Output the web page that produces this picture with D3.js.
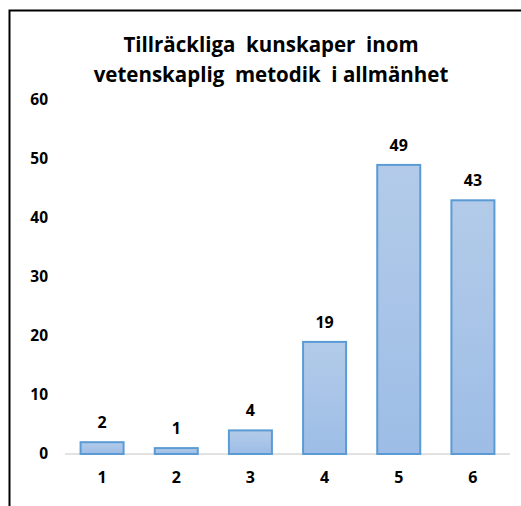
<!DOCTYPE html>
<html><head><meta charset="utf-8">
<script src="https://cdn.jsdelivr.net/npm/d3@7"></script>
<style>body{margin:0;background:#fff}svg{display:block}</style>
</head><body>
<script>
const categories = ["1","2","3","4","5","6"];
const values = [2,1,4,19,49,43];
const yTicks = [0,10,20,30,40,50,60];
const titleLines = ["Tillräckliga  kunskaper  inom","vetenskaplig  metodik  i allmänhet"];

const W=521,H=506;
const svg=d3.select("body").append("svg").attr("width",W).attr("height",H);
const font="'Open Sans', 'Noto Sans', sans-serif";

const defs=svg.append("defs");
const g=defs.append("linearGradient").attr("id","bg").attr("x1",0).attr("y1",0).attr("x2",0).attr("y2",1);
g.append("stop").attr("offset","0%").attr("stop-color","#b3cbe9");
g.append("stop").attr("offset","100%").attr("stop-color","#9dbde6");

// border
svg.append("path").attr("d","M9.5,506 V10.5 H521").attr("fill","none").attr("stroke","#000").attr("stroke-width",2);

const x=d3.scaleBand().domain(categories).range([65,510]).paddingInner(0.42).paddingOuter(0.21);
const y=d3.scaleLinear().domain([0,60]).range([454,100]);

svg.selectAll(".t").data(titleLines).join("text")
 .attr("x",271).attr("y",(d,i)=>52+i*30).attr("text-anchor","middle")
 .attr("font-family",font).attr("font-weight","bold").attr("font-size",20.5).attr("fill","#000")
 .style("white-space","pre").text(d=>d);

const ya=svg.append("g").attr("transform","translate(48,0)")
 .call(d3.axisLeft(y).tickValues(yTicks).tickSize(0).tickPadding(0));
ya.select(".domain").remove();
ya.selectAll("text").attr("font-family",font).attr("font-weight","bold").attr("font-size",15.5).attr("fill","#000");

svg.append("line").attr("x1",65).attr("x2",510).attr("y1",y(0)).attr("y2",y(0)).attr("stroke","#d9d9d9").attr("stroke-width",1.5);

svg.selectAll(".bar").data(values).join("rect")
 .attr("x",(d,i)=>x(categories[i])).attr("width",x.bandwidth())
 .attr("y",d=>y(d)).attr("height",d=>y(0)-y(d))
 .attr("fill","url(#bg)").attr("stroke","#5b9bd5").attr("stroke-width",2);

svg.selectAll(".vl").data(values).join("text")
 .attr("x",(d,i)=>x(categories[i])+x.bandwidth()/2).attr("y",d=>y(d)-14)
 .attr("text-anchor","middle").attr("font-family",font).attr("font-weight","bold").attr("font-size",16).attr("fill","#000")
 .text(d=>d);

const xa=svg.append("g").attr("transform",`translate(0,${y(0)})`)
 .call(d3.axisBottom(x).tickSize(0).tickPadding(18));
xa.select(".domain").remove();
xa.selectAll("text").attr("font-family",font).attr("font-weight","bold").attr("font-size",16).attr("fill","#000");
</script>
</body></html>
